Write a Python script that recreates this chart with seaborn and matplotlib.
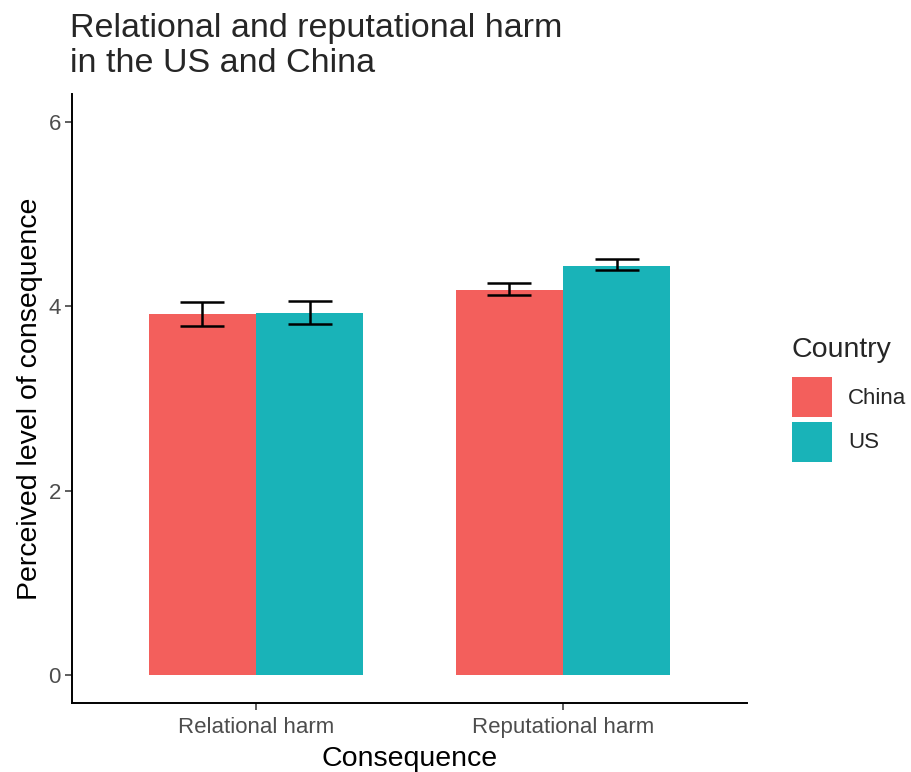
import matplotlib
matplotlib.use("Agg")
import matplotlib.pyplot as plt
import matplotlib.patches as mpatches
import numpy as np
import pandas as pd
import seaborn as sns

# Mean perceived consequence by country, with error-bar bounds
consequences = ["Relational harm", "Reputational harm"]
countries = ["China", "US"]
china_mean = [3.91, 4.18]
us_mean = [3.93, 4.44]
china_low = [3.79, 4.12]
china_high = [4.04, 4.25]
us_low = [3.81, 4.39]
us_high = [4.06, 4.51]

palette = {"China": "#F35F5C", "US": "#19B3B8"}

df = pd.DataFrame({
    "Consequence": consequences * 2,
    "Country": ["China"] * 2 + ["US"] * 2,
    "Mean": china_mean + us_mean,
    "Low": china_low + us_low,
    "High": china_high + us_high,
})

sns.set_theme(style="ticks")
plt.rcParams["font.family"] = ["Liberation Sans", "DejaVu Sans"]

fig = plt.figure(figsize=(9.11, 7.72), dpi=100)
ax = fig.add_axes([0.079, 0.0894, 0.741, 0.789])

sns.barplot(data=df, x="Consequence", y="Mean", hue="Country",
            hue_order=countries, order=consequences, palette=palette,
            width=0.7, errorbar=None, saturation=1, ax=ax, legend=False,
            linewidth=0)

# Error bars centred on each dodged bar
offsets = {"China": -0.175, "US": 0.175}
for _, row in df.iterrows():
    xpos = consequences.index(row["Consequence"]) + offsets[row["Country"]]
    ax.errorbar(xpos, row["Mean"],
                yerr=[[row["Mean"] - row["Low"]], [row["High"] - row["Mean"]]],
                fmt="none", ecolor="black", elinewidth=1.8, capsize=16,
                capthick=1.8, zorder=5)

ax.set_xlim(-0.6, 1.6)
ax.set_ylim(-0.3, 6.3)
ax.set_yticks([0, 2, 4, 6])
ax.tick_params(axis="both", labelcolor="#4D4D4D", color="#333333",
               labelsize=16, length=5, width=1.1, pad=3)
ax.tick_params(axis="x", pad=5)
for s in ["top", "right"]:
    ax.spines[s].set_visible(False)
for s in ["left", "bottom"]:
    ax.spines[s].set_linewidth(1.4)
    ax.spines[s].set_color("black")

ax.set_xlabel("Consequence", fontsize=20.5, color="black", labelpad=6)
ax.set_ylabel("Perceived level of consequence", fontsize=20.5,
              color="black", labelpad=4)

fig.text(0.077, 0.983, "Relational and reputational harm\nin the US and China",
         fontsize=24.5, ha="left", va="top", linespacing=1.18)

handles = [mpatches.Patch(facecolor=palette[c], edgecolor="none", label=c)
           for c in countries]
leg = fig.legend(handles=handles, title="Country", loc="upper left",
                 bbox_to_anchor=(0.869, 0.563), frameon=False,
                 fontsize=16, title_fontsize=20.5, handlelength=1.8,
                 handleheight=2.39, labelspacing=0.2, handletextpad=0.75,
                 borderpad=0, borderaxespad=0)
leg._legend_box.align = "left"
leg._legend_box.sep = 10

fig.savefig("out.png", dpi=100)
